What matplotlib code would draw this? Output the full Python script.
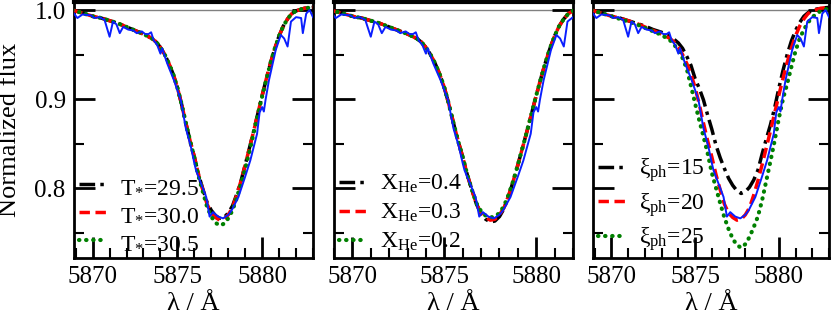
import matplotlib
matplotlib.use('Agg')
import matplotlib.pyplot as plt
from matplotlib.ticker import MultipleLocator

plt.rcParams['font.family'] = ['Liberation Serif', 'DejaVu Serif']
plt.rcParams['mathtext.fontset'] = 'custom'
plt.rcParams['mathtext.rm'] = 'Liberation Serif'
plt.rcParams['mathtext.it'] = 'Liberation Serif:italic'

# Observed spectrum (blue)
obs_wave = [5868.90, 5869.10, 5869.40, 5869.90, 5870.10, 5870.40, 5870.70, 5871.00,
            5871.20, 5871.40, 5871.60, 5871.80, 5872.10, 5872.40, 5872.60, 5872.90,
            5873.10, 5873.30, 5873.45, 5873.60, 5873.80, 5874.00, 5874.10, 5874.40,
            5874.80, 5875.20, 5875.50, 5875.80, 5876.00, 5876.10, 5876.40, 5876.70,
            5876.90, 5877.10, 5877.40, 5877.70, 5878.00, 5878.20, 5878.60, 5879.00,
            5879.30, 5879.70, 5879.85, 5880.00, 5880.10, 5880.20, 5880.40, 5880.80,
            5881.10, 5881.30, 5881.50, 5881.70, 5882.00, 5882.30, 5882.40, 5882.60,
            5882.80, 5883.00]
obs_flux = [0.996, 0.991, 0.995, 0.994, 0.991, 0.992, 0.989, 0.970,
            0.987, 0.984, 0.974, 0.981, 0.978, 0.977, 0.974, 0.976,
            0.973, 0.973, 0.975, 0.966, 0.961, 0.951, 0.957, 0.940,
            0.921, 0.899, 0.867, 0.846, 0.828, 0.820, 0.805, 0.790,
            0.768, 0.773, 0.768, 0.766, 0.770, 0.775, 0.790, 0.813,
            0.831, 0.861, 0.885, 0.891, 0.886, 0.899, 0.921, 0.955,
            0.972, 0.968, 0.959, 0.987, 0.992, 0.991, 0.974, 0.996,
            1.000, 0.992]

# Model wavelength grid
wave_mod = [5868.8, 5869.5, 5870.0, 5870.5, 5871.0, 5871.5, 5872.0, 5872.5,
            5873.0, 5873.5, 5873.75, 5874.0, 5874.25, 5874.5, 5874.75, 5875.0,
            5875.25, 5875.5, 5875.75, 5876.0, 5876.25, 5876.5, 5876.75, 5877.0,
            5877.25, 5877.5, 5877.75, 5878.0, 5878.25, 5878.5, 5878.75, 5879.0,
            5879.25, 5879.5, 5879.75, 5880.0, 5880.25, 5880.5, 5880.75, 5881.0,
            5881.25, 5881.5, 5881.75, 5882.0, 5882.5, 5883.0]

# Reference model (T*=30.0, X_He=0.3, xi_ph=20)
flux_ref = [1.000, 0.996, 0.993, 0.991, 0.988, 0.985, 0.981, 0.977,
            0.973, 0.968, 0.964, 0.958, 0.950, 0.940, 0.928, 0.913,
            0.894, 0.873, 0.853, 0.835, 0.815, 0.798, 0.782, 0.772,
            0.767, 0.764, 0.765, 0.770, 0.778, 0.792, 0.808, 0.826,
            0.845, 0.864, 0.884, 0.904, 0.923, 0.941, 0.957, 0.971,
            0.982, 0.990, 0.996, 0.999, 1.002, 1.003]

# Panel 1: temperature
flux_t295 = [1.000, 0.996, 0.993, 0.991, 0.988, 0.985, 0.981, 0.977,
             0.973, 0.968, 0.964, 0.958, 0.950, 0.940, 0.928, 0.913,
             0.894, 0.873, 0.853, 0.835, 0.815, 0.799, 0.784, 0.775,
             0.769, 0.766, 0.767, 0.772, 0.780, 0.793, 0.808, 0.826,
             0.845, 0.864, 0.884, 0.904, 0.923, 0.941, 0.957, 0.971,
             0.982, 0.990, 0.996, 0.999, 1.002, 1.003]
flux_t305 = [1.000, 0.996, 0.993, 0.991, 0.988, 0.985, 0.981, 0.977,
             0.973, 0.968, 0.964, 0.958, 0.950, 0.940, 0.928, 0.913,
             0.894, 0.873, 0.853, 0.834, 0.813, 0.796, 0.779, 0.768,
             0.761, 0.758, 0.760, 0.766, 0.775, 0.789, 0.805, 0.822,
             0.841, 0.862, 0.883, 0.903, 0.922, 0.941, 0.957, 0.971,
             0.982, 0.990, 0.996, 0.999, 1.002, 1.003]

# Panel 2: helium abundance
flux_x04 = [1.000, 0.996, 0.993, 0.991, 0.988, 0.985, 0.981, 0.977,
            0.973, 0.968, 0.964, 0.958, 0.950, 0.940, 0.928, 0.913,
            0.894, 0.873, 0.853, 0.835, 0.815, 0.798, 0.782, 0.771,
            0.765, 0.762, 0.763, 0.768, 0.777, 0.791, 0.808, 0.826,
            0.845, 0.864, 0.884, 0.904, 0.923, 0.941, 0.957, 0.971,
            0.982, 0.990, 0.996, 0.999, 1.002, 1.003]
flux_x02 = [1.000, 0.996, 0.993, 0.991, 0.988, 0.985, 0.981, 0.977,
            0.973, 0.968, 0.964, 0.958, 0.950, 0.940, 0.928, 0.913,
            0.894, 0.873, 0.853, 0.835, 0.815, 0.798, 0.783, 0.774,
            0.769, 0.767, 0.768, 0.772, 0.780, 0.793, 0.808, 0.826,
            0.845, 0.864, 0.884, 0.904, 0.923, 0.941, 0.957, 0.971,
            0.982, 0.990, 0.996, 0.999, 1.002, 1.003]

# Panel 3: microturbulence
flux_xi15 = [1.000, 0.996, 0.993, 0.991, 0.988, 0.985, 0.982, 0.978,
             0.975, 0.970, 0.967, 0.963, 0.957, 0.948, 0.938, 0.923,
             0.912, 0.899, 0.882, 0.866, 0.848, 0.834, 0.822, 0.811,
             0.803, 0.797, 0.794, 0.796, 0.801, 0.809, 0.820, 0.838,
             0.855, 0.871, 0.890, 0.912, 0.932, 0.950, 0.965, 0.977,
             0.986, 0.993, 0.997, 1.000, 1.002, 1.003]
flux_xi25 = [1.000, 0.996, 0.993, 0.990, 0.987, 0.984, 0.980, 0.976,
             0.972, 0.966, 0.961, 0.955, 0.946, 0.934, 0.915, 0.895,
             0.876, 0.858, 0.839, 0.817, 0.800, 0.783, 0.767, 0.754,
             0.743, 0.736, 0.733, 0.737, 0.745, 0.756, 0.768, 0.786,
             0.808, 0.830, 0.853, 0.878, 0.900, 0.917, 0.936, 0.954,
             0.968, 0.978, 0.986, 0.992, 0.999, 1.002]

panels = [
    (['T$_{*}$=29.5', 'T$_{*}$=30.0', 'T$_{*}$=30.5'],
     [flux_t295, flux_ref, flux_t305], (5868.9, 5883.0)),
    (['X$_{\\rm He}$=0.4', 'X$_{\\rm He}$=0.3', 'X$_{\\rm He}$=0.2'],
     [flux_x04, flux_ref, flux_x02], (5869.0, 5882.0)),
    (['ξ$_{\\rm ph}$=15', 'ξ$_{\\rm ph}$=20', 'ξ$_{\\rm ph}$=25'],
     [flux_xi15, flux_ref, flux_xi25], (5868.9, 5883.0)),
]

fig = plt.figure(figsize=(8.31, 3.21), dpi=100)
lefts = [74 / 831, 334 / 831, 593 / 831]
widths = [239 / 831, 239 / 831, 236 / 831]
bottom = 63 / 321
height = 256 / 321

for i, (labels, fluxes, xlim) in enumerate(panels):
    ax = fig.add_axes([lefts[i], bottom, widths[i], height])
    ax.axhline(1.0, color='grey', lw=1, zorder=1)

    ax.plot(wave_mod, fluxes[0], color='black', lw=2.5,
            dashes=(4.5, 1.5, 1, 1.5), label=labels[0], zorder=3)
    ax.plot(wave_mod, fluxes[1], color='red', lw=2.5,
            dashes=(3, 1.6), label=labels[1], zorder=3)
    ax.plot(wave_mod, fluxes[2], color='green', lw=3,
            dashes=(0.1, 1.6), dash_capstyle='round', label=labels[2], zorder=3)
    ax.plot(obs_wave, obs_flux, color='#0a1eff', lw=1.4, zorder=4)

    ax.set_xlim(*xlim)
    ax.set_ylim(0.7215, 1.009)
    ax.xaxis.set_major_locator(MultipleLocator(5))
    ax.xaxis.set_minor_locator(MultipleLocator(1))
    ax.yaxis.set_major_locator(MultipleLocator(0.1))
    ax.yaxis.set_minor_locator(MultipleLocator(0.05))
    ax.tick_params(which='both', direction='in', left=True, right=True,
                   top=False, bottom=True, labelsize=18, width=2)
    ax.tick_params(which='major', length=15, pad=6)
    ax.tick_params(which='minor', length=7, width=1.5)
    for sp in ax.spines.values():
        sp.set_linewidth(2)
    ax.spines['top'].set_linewidth(3)

    ax.set_xlabel('λ / Å', fontsize=19, labelpad=3)
    if i == 0:
        ax.set_ylabel('Normalized flux', fontsize=19, labelpad=10)
        ax.set_yticks([0.8, 0.9, 1.0])
        ax.set_yticklabels(['0.8', '0.9', '1.0'])
    else:
        ax.set_yticklabels([])

    ax.legend(loc='lower left', frameon=False, fontsize=17,
              handlelength=1.15, handletextpad=0.6, labelspacing=0.28,
              borderaxespad=0.1, borderpad=0.1)

fig.savefig('out.png', dpi=100)
